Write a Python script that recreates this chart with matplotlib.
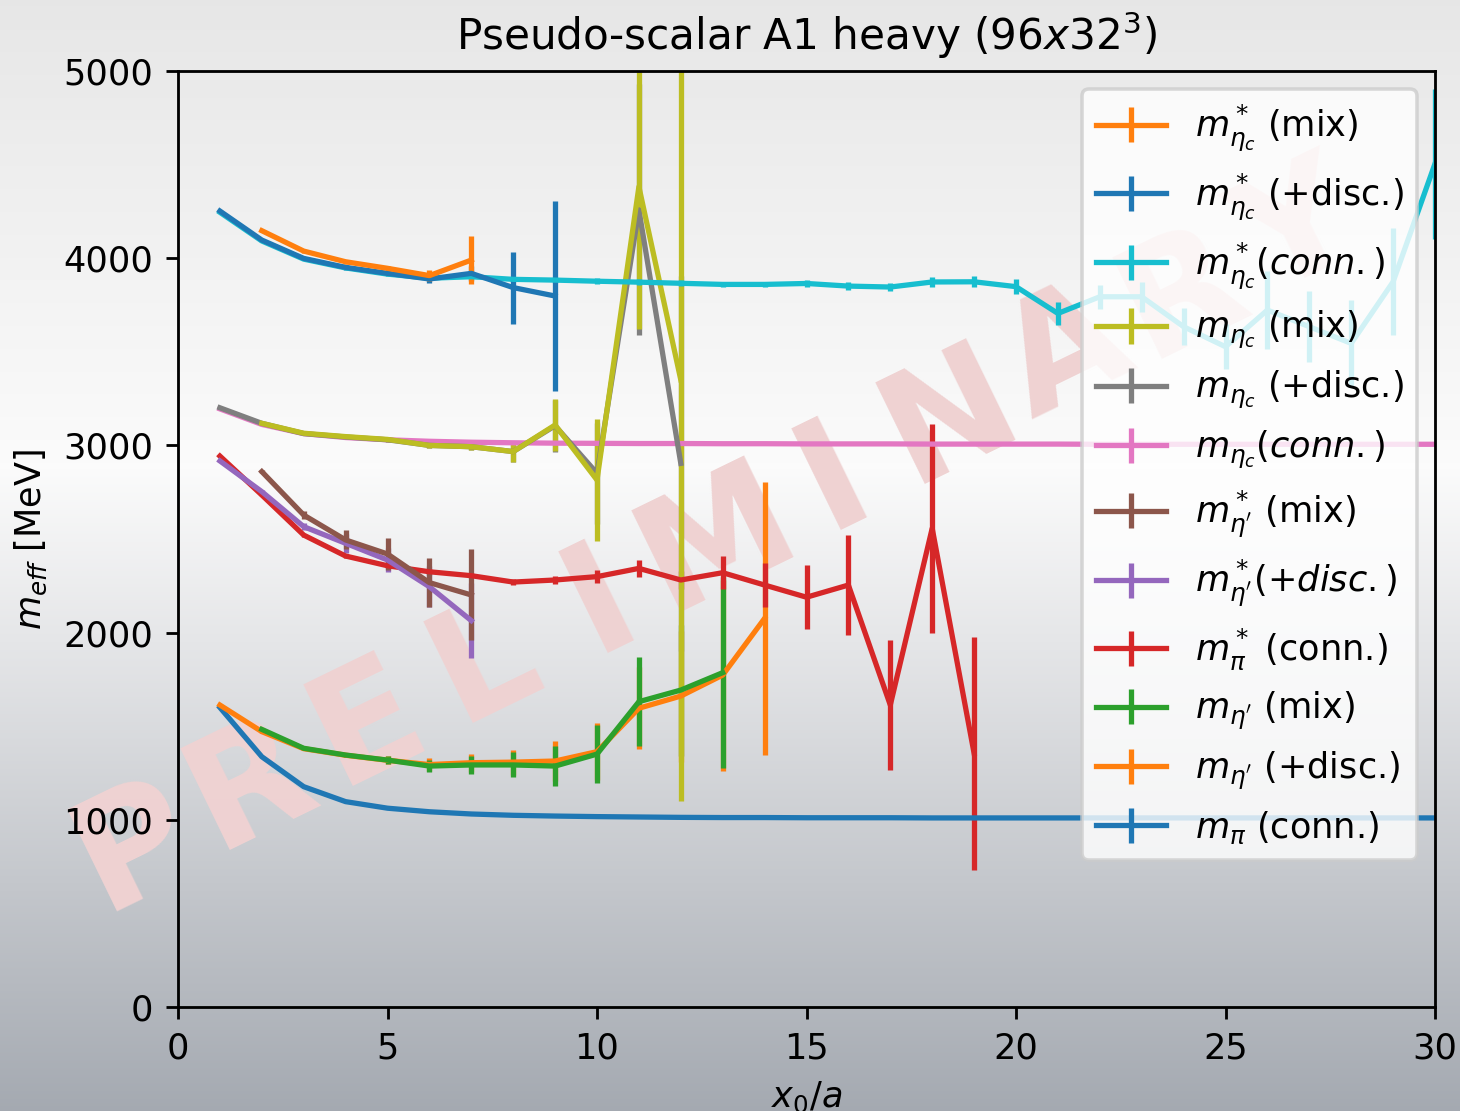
import numpy as np
import matplotlib.pyplot as plt

# effective masses [MeV] vs x0/a

# eta_c* channel
x_etac_star_mix = list(range(2, 8))
etac_star_mix = [4147, 4038, 3981, 3946, 3907, 3990]
etac_star_mix_err = [5, 8, 10, 15, 30, 130]

x_etac_star_disc = list(range(1, 10))
etac_star_disc = [4252, 4097, 3999, 3951, 3919, 3889, 3919, 3843, 3798]
etac_star_disc_err = [5, 8, 10, 12, 15, 20, 40, 192, 510]

x_etac_star_conn = list(range(1, 31))
etac_star_conn = [4245, 4092, 3995, 3948, 3915, 3893, 3901, 3887, 3883, 3877,
                  3872, 3866, 3860, 3860, 3865, 3851, 3846, 3873, 3874, 3848,
                  3705, 3794, 3794, 3634, 3527, 3723, 3634, 3545, 3874, 4505]
etac_star_conn_err = [2, 3, 4, 5, 6, 8, 10, 12, 14, 15,
                      15, 15, 15, 15, 18, 20, 20, 25, 30, 40,
                      60, 65, 80, 100, 120, 208, 190, 230, 285, 400]

# eta_c channel
x_etac_mix = list(range(2, 13))
etac_mix = [3118, 3065, 3047, 3032, 3000, 2993, 2967, 3109, 2815, 4382, 3350]
etac_mix_err = [5, 8, 10, 12, 15, 20, 55, 140, 325, 760, 2250]

x_etac_disc = list(range(1, 13))
etac_disc = [3201, 3118, 3063, 3045, 3030, 3000, 2993, 2967, 3105, 2851, 4258, 2904]
etac_disc_err = [3, 5, 8, 10, 12, 15, 20, 55, 140, 270, 670, 1000]

x_etac_conn = list(range(1, 31))
etac_conn = [3195, 3112, 3063, 3042, 3030, 3022, 3017, 3014, 3012, 3011,
             3010, 3010, 3009, 3009, 3008, 3008, 3008, 3007, 3007, 3007,
             3007, 3006, 3006, 3006, 3006, 3006, 3006, 3006, 3006, 3006]
etac_conn_err = [3] * 30

# eta'* / pi* channel
x_etap_star_mix = list(range(2, 8))
etap_star_mix = [2860, 2628, 2495, 2420, 2267, 2201]
etap_star_mix_err = [10, 20, 51, 84, 132, 243]

x_etap_star_disc = list(range(1, 8))
etap_star_disc = [2917, 2753, 2566, 2477, 2388, 2245, 2064]
etap_star_disc_err = [5, 10, 20, 50, 65, 110, 200]

x_pi_star_conn = list(range(1, 20))
pi_star_conn = [2943, 2735, 2521, 2409, 2357, 2325, 2304, 2270, 2281, 2299,
                2343, 2281, 2320, 2254, 2189, 2254, 1613, 2557, 1355]
pi_star_conn_err = [3, 5, 8, 10, 12, 15, 15, 18, 22, 34,
                    45, 50, 89, 116, 170, 269, 349, 559, 623]

# eta' / pi channel
x_etap_mix = list(range(2, 14))
etap_mix = [1483, 1382, 1346, 1319, 1287, 1293, 1293, 1287, 1351, 1631, 1693, 1786]
etap_mix_err = [5, 8, 12, 22, 33, 48, 67, 105, 153, 238, 350, 510]

x_etap_disc = list(range(1, 15))
etap_disc = [1613, 1471, 1380, 1345, 1318, 1295, 1305, 1308, 1314, 1364,
             1596, 1661, 1773, 2076]
etap_disc_err = [3, 5, 8, 12, 22, 33, 48, 67, 105, 153, 219, 350, 510, 728]

x_pi_conn = list(range(1, 31))
pi_conn = [1600, 1337, 1177, 1097, 1062, 1043, 1031, 1024, 1020, 1017,
           1015, 1013, 1012, 1012, 1011, 1011, 1011, 1010, 1010, 1010,
           1010, 1010, 1010, 1010, 1010, 1010, 1010, 1010, 1010, 1010]
pi_conn_err = [2] * 30

# legend order
series = [
    (x_etac_star_mix, etac_star_mix, etac_star_mix_err, 'C1', r'$m^*_{\eta_c}$ (mix)'),
    (x_etac_star_disc, etac_star_disc, etac_star_disc_err, 'C0', r'$m^*_{\eta_c}$ (+disc.)'),
    (x_etac_star_conn, etac_star_conn, etac_star_conn_err, 'C9', r'$m^*_{\eta_c} (conn.)$'),
    (x_etac_mix, etac_mix, etac_mix_err, 'C8', r'$m_{\eta_c}$ (mix)'),
    (x_etac_disc, etac_disc, etac_disc_err, 'C7', r'$m_{\eta_c}$ (+disc.)'),
    (x_etac_conn, etac_conn, etac_conn_err, 'C6', r'$m_{\eta_c} (conn.)$'),
    (x_etap_star_mix, etap_star_mix, etap_star_mix_err, 'C5', r"$m^*_{\eta'}$ (mix)"),
    (x_etap_star_disc, etap_star_disc, etap_star_disc_err, 'C4', r"$m^*_{\eta'} (+disc.)$"),
    (x_pi_star_conn, pi_star_conn, pi_star_conn_err, 'C3', r'$m^*_{\pi}$ (conn.)'),
    (x_etap_mix, etap_mix, etap_mix_err, 'C2', r"$m_{\eta'}$ (mix)"),
    (x_etap_disc, etap_disc, etap_disc_err, 'C1', r"$m_{\eta'}$ (+disc.)"),
    (x_pi_conn, pi_conn, pi_conn_err, 'C0', r'$m_\pi$ (conn.)'),
]

DPI = 253
fig = plt.figure(figsize=(1460 / DPI, 1111 / DPI), dpi=DPI)

# slide background: vertical grey gradient + watermark
bg = fig.add_axes([0, 0, 1, 1], zorder=0)
bg.axis('off')
stops = [0.0, 0.42, 0.62, 1.0]
top = np.array([0.905, 0.905, 0.905])
mid = np.array([0.985, 0.985, 0.985])
low = np.array([0.875, 0.88, 0.89])
bot = np.array([0.645, 0.665, 0.695])
t = np.linspace(0, 1, 400)
grad = np.empty((400, 1, 3))
for k in range(3):
    grad[:, 0, k] = np.interp(t, stops, [top[k], mid[k], low[k], bot[k]])
bg.imshow(grad, extent=[0, 1, 0, 1], aspect='auto', origin='upper')
bg.set_xlim(0, 1)
bg.set_ylim(0, 1)

word = 'PRELIMINARY'
wx = np.linspace(0.092, 0.890, len(word))
wy = np.linspace(0.238, 0.790, len(word))
for ch, px, py in zip(word, wx, wy):
    bg.text(px, py, ch, transform=bg.transAxes, fontsize=44, fontweight='bold',
            color='#efd2d2', rotation=26, ha='center', va='center')

ax = fig.add_axes([178 / 1460, 1 - 1007 / 1111, (1435 - 178) / 1460, (1007 - 71) / 1111],
                  zorder=1)
ax.set_facecolor('none')

handles = []
for xs, ys, es, c, lab in series[::-1]:
    h = ax.errorbar(xs, ys, yerr=es, color=c, label=lab)
    handles.append(h)
handles = handles[::-1]

ax.set_xlim(0, 30)
ax.set_ylim(0, 5000)
ax.set_xlabel('$x_0/a$')
ax.set_ylabel('$m_{eff}$ [MeV]')
ax.set_title('Pseudo-scalar A1 heavy ($96x32^3$)')
ax.legend(handles, [s[4] for s in series], loc='upper right')

fig.savefig('out.png', dpi=DPI)
